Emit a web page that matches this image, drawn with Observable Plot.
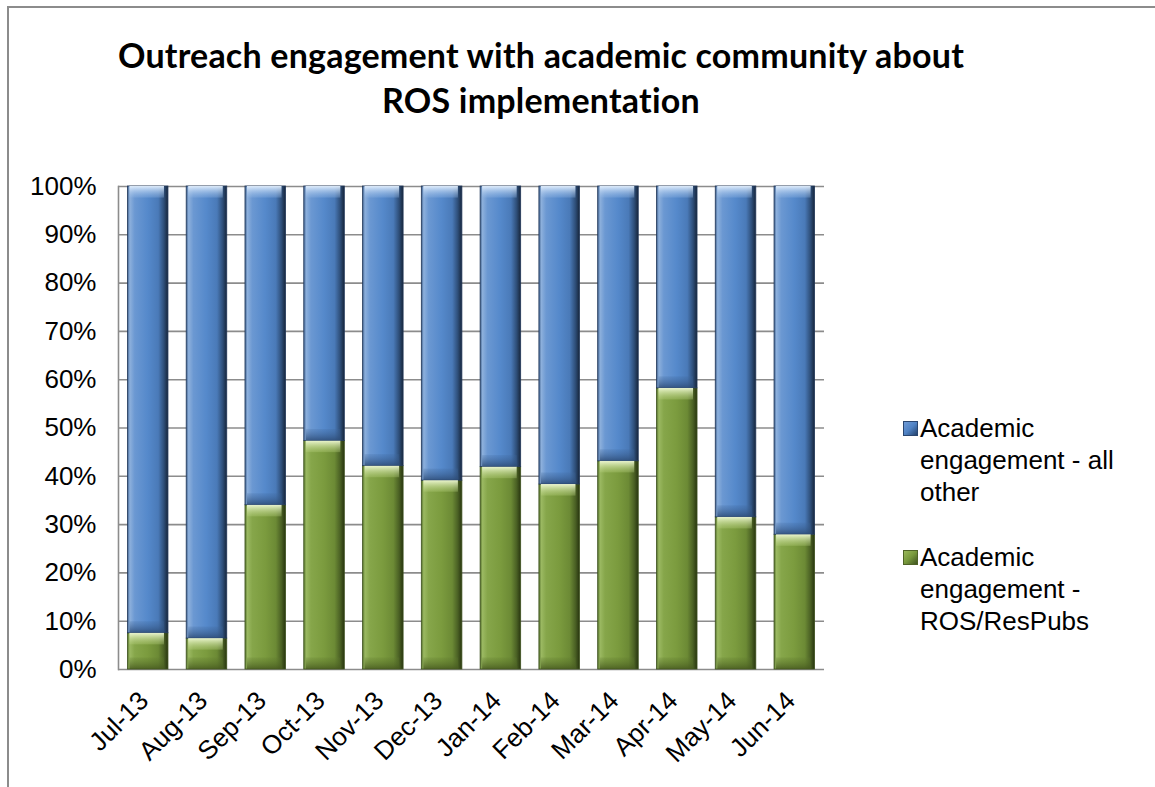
<!DOCTYPE html>
<html>
<head>
<meta charset="utf-8">
<script src="https://cdn.jsdelivr.net/npm/d3@7"></script>
<script src="https://cdn.jsdelivr.net/npm/@observablehq/plot@0.6"></script>
<style>
  html, body { margin: 0; padding: 0; background: #fff; }
  #wrap { position: relative; width: 1155px; height: 787px; overflow: hidden; background: #fff; }
  #border { position: absolute; left: 7px; top: 6px; width: 1160px; height: 800px; border-top: 2px solid #8c8c8c; border-left: 2px solid #8c8c8c; }
  #title { position: absolute; left: 0; top: 32px; width: 1082px; text-align: center; font-family: Lato, "Open Sans", sans-serif; font-weight: bold; font-size: 34px; line-height: 45px; color: #000; letter-spacing: 0.2px; }
  #chart { position: absolute; left: 0; top: 160px; }
  .leg { position: absolute; left: 920px; font-family: "Liberation Sans", Arial, sans-serif; font-size: 26px; line-height: 32px; color: #000; }
  .sw { position: absolute; left: 903px; width: 13px; height: 13px; }
</style>
</head>
<body>
<div id="wrap">
  <div id="border"></div>
  <div id="title">Outreach engagement with academic community about<br>ROS implementation</div>
  <div id="chart"></div>
  <div class="sw" style="top:421px; background: linear-gradient(135deg,#6f9bd6 0%,#4f82c4 50%,#23426c 100%); border:1px solid #2a4670;"></div>
  <div class="leg" style="top:412px;">Academic<br>engagement - all<br>other</div>
  <div class="sw" style="top:550px; background: linear-gradient(135deg,#9ab85a 0%,#77983b 50%,#3f5320 100%); border:1px solid #4f6327;"></div>
  <div class="leg" style="top:541px;">Academic<br>engagement -<br>ROS/ResPubs</div>
</div>
<script>
const months = ["Jul-13","Aug-13","Sep-13","Oct-13","Nov-13","Dec-13","Jan-14","Feb-14","Mar-14","Apr-14","May-14","Jun-14"];
const rosShare   = [7.5, 6.4, 34.0, 47.3, 42.1, 39.1, 41.9, 38.3, 43.1, 58.2, 31.5, 27.9];
const otherShare = [92.5, 93.6, 66.0, 52.7, 57.9, 60.9, 58.1, 61.7, 56.9, 41.8, 68.5, 72.1];
const seriesNames = ["Academic engagement - ROS/ResPubs", "Academic engagement - all other"];
const yTicks = [0, 10, 20, 30, 40, 50, 60, 70, 80, 90, 100];

const rows = months.flatMap((m, i) => [
  {month: m, series: seriesNames[0], y1: 0, y2: rosShare[i]},
  {month: m, series: seriesNames[1], y1: rosShare[i], y2: rosShare[i] + otherShare[i]}
]);
const green = rows.filter(d => d.series === seriesNames[0]);
const blue = rows.filter(d => d.series === seriesNames[1]);
const bev = 2.4;

const chart = Plot.plot({
  width: 1155,
  height: 627,
  marginTop: 26,
  marginBottom: 118,
  marginLeft: 118,
  marginRight: 331,
  style: {fontFamily: "'Liberation Sans', Arial, sans-serif", fontSize: "26px", color: "#000", background: "transparent"},
  x: {domain: months, paddingInner: 0.31, paddingOuter: 0.16, round: false, label: null},
  y: {domain: [0, 100], label: null},
  marks: [
    Plot.gridY(yTicks, {stroke: "#8c8c8c", strokeOpacity: 1, strokeWidth: 1.6}),
    Plot.frame({anchor: "left", stroke: "#8c8c8c", strokeWidth: 1.6}),
    Plot.barY(green, {x: "month", y1: "y1", y2: "y2", fill: "url(#gGreen)", stroke: "#3f5320", strokeWidth: 0.8, inset: 0}),
    Plot.barY(blue, {x: "month", y1: "y1", y2: "y2", fill: "url(#gBlue)", stroke: "#22385a", strokeWidth: 0.8, inset: 0}),
    Plot.barY(green, {x: "month", y1: d => d.y2 - bev, y2: "y2", fill: "url(#hGreen)", insetLeft: 2, insetRight: 4}),
    Plot.barY(blue, {x: "month", y1: d => d.y2 - bev, y2: "y2", fill: "url(#hBlue)", insetLeft: 2, insetRight: 4}),
    Plot.barY(blue, {x: "month", y1: "y1", y2: d => d.y1 + bev, fill: "url(#sBlue)", insetLeft: 2, insetRight: 4}),
    Plot.barY(green, {x: "month", y1: "y1", y2: d => d.y1 + bev, fill: "url(#sGreen)", insetLeft: 2, insetRight: 4}),
    Plot.axisY(yTicks, {tickSize: 0, tickPadding: 22, tickFormat: d => d + "%", fontSize: 26}),
    Plot.axisX({tickSize: 0, tickPadding: 14, tickRotate: -45, fontSize: 26, dy: 13, dx: -4})
  ]
});

const svg = d3.select(chart);
const defs = svg.insert("defs", ":first-child");
function hgrad(id, stops) {
  const g = defs.append("linearGradient").attr("id", id).attr("x1", "0").attr("x2", "1").attr("y1", "0").attr("y2", "0");
  stops.forEach(([o, c, op]) => g.append("stop").attr("offset", o).attr("stop-color", c).attr("stop-opacity", op == null ? 1 : op));
}
function vgrad(id, stops) {
  const g = defs.append("linearGradient").attr("id", id).attr("x1", "0").attr("x2", "0").attr("y1", "0").attr("y2", "1");
  stops.forEach(([o, c, op]) => g.append("stop").attr("offset", o).attr("stop-color", c).attr("stop-opacity", op == null ? 1 : op));
}
hgrad("gBlue", [["0%", "#3d5f8c"], ["6%", "#8db0dc"], ["18%", "#6b98d2"], ["50%", "#5589cb"], ["76%", "#4a7ab8"], ["90%", "#2e4e78"], ["100%", "#17263c"]]);
hgrad("gGreen", [["0%", "#53702a"], ["6%", "#9bb962"], ["18%", "#86a64a"], ["50%", "#7b9b3e"], ["76%", "#6c8a35"], ["90%", "#4a6024"], ["100%", "#28350f"]]);
vgrad("hBlue", [["0%", "#e6f2ff", 0.95], ["100%", "#8fb4e2", 0.3]]);
vgrad("hGreen", [["0%", "#f2fbd8", 0.95], ["100%", "#b6d07c", 0.3]]);
vgrad("sBlue", [["0%", "#3f679c", 0.2], ["100%", "#2c4a74", 0.85]]);
vgrad("sGreen", [["0%", "#5f7a2e", 0.2], ["100%", "#46591f", 0.85]]);

document.getElementById("chart").appendChild(chart);
</script>
</body>
</html>
